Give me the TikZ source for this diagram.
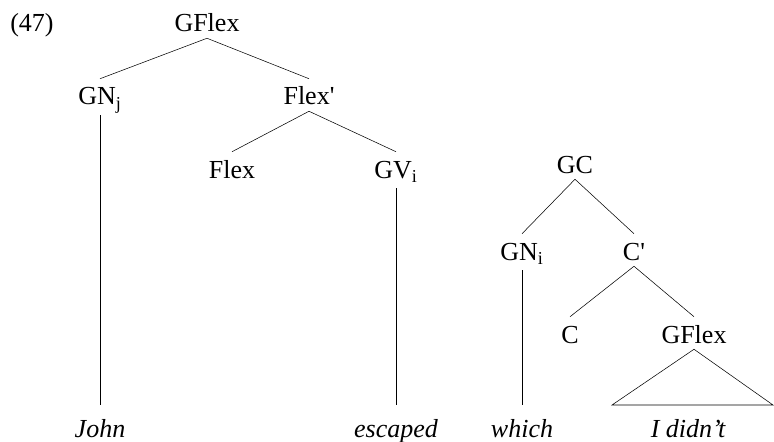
\documentclass[tikz,border=0pt]{standalone}
\usepackage{fontspec}
\setmainfont{Liberation Serif}[Ligatures=TeXOff]
\begin{document}
\begin{tikzpicture}[x=0.75pt,y=-0.75pt,
  cat/.style={anchor=base,font=\fontsize{19.5}{23}\selectfont,text height=15pt,text depth=0pt,inner xsep=0pt,inner ysep=4.5pt},
  catsub/.style={cat,text depth=3pt},
  leaf/.style={anchor=base,font=\fontsize{19.5}{23}\selectfont\itshape,text height=16pt,text depth=0pt,inner xsep=0pt,inner ysep=7.5pt}]
\useasboundingbox (0,0) rectangle (774,442);
\node[cat] (ex) at (32,32) {(47)};
% left tree
\node[cat] (gflex) at (207,32) {GFlex};
\node[catsub] (gnj) at (100,105) {GN\textsubscript{j}};
\node[cat] (flexbar) at (309,105) {Flex'};
\node[cat] (flex) at (232,178) {Flex};
\node[catsub] (gvi) at (396,178) {GV\textsubscript{i}};
\node[leaf] (john) at (100,437) {John};
\node[leaf] (escaped) at (396,437) {escaped};
\draw (gflex.south) -- (gnj.north);
\draw (gflex.south) -- (flexbar.north);
\draw (flexbar.south) -- (flex.north);
\draw (flexbar.south) -- (gvi.north);
\draw (gnj.south) -- (john.north);
\draw (gvi.south) -- (escaped.north);
% right tree
\node[cat] (gc) at (575,173) {GC};
\node[catsub] (gni) at (522,260) {GN\textsubscript{i}};
\node[cat] (cbar) at (634,260) {C'};
\node[cat] (c) at (570,343) {C};
\node[cat] (gflexb) at (694,343) {GFlex};
\node[leaf] (which) at (522,437) {which};
\node[leaf] (didnt) at (688,437) {I didn’t};
\coordinate (tl) at (612,405);
\coordinate (tr) at (773,405);
\draw (gc.south) -- (gni.north);
\draw (gc.south) -- (cbar.north);
\draw (cbar.south) -- (c.north);
\draw (cbar.south) -- (gflexb.north);
\draw (gni.south) -- (which.north);
\draw (tl) -- (gflexb.south) -- (tr) -- cycle;
\end{tikzpicture}
\end{document}
